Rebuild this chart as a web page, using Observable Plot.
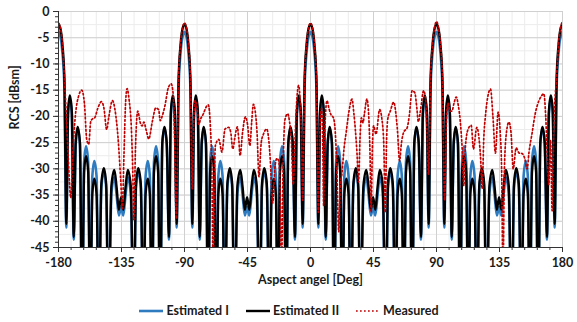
<!DOCTYPE html>
<html><head><meta charset="utf-8">
<script src="https://cdn.jsdelivr.net/npm/d3@7"></script>
<script src="https://cdn.jsdelivr.net/npm/@observablehq/plot@0.6"></script>
<style>
body{margin:0;background:#fff;font-family:Lato,"Open Sans",sans-serif;}
#chart{width:577px;height:322px;position:relative;overflow:hidden;}
#chart svg{display:block;}
.legend{position:absolute;left:0;top:303px;width:577px;display:flex;justify-content:center;gap:16px;font-weight:bold;font-size:12.5px;color:#1a1a1a;line-height:16px;}
.item{display:flex;align-items:center;gap:2px;}
</style></head><body><div id="chart"></div>
<script>
// Aspect angles (deg) at which the estimated curves were read
const angle = [
 -180,-178.6,-177.2,-175.8,-174.4,-173.15,-171.9,-170.5,-169.1,-167.7,-166.3,-164.7,-163.1,-161.7,-160.3,-158.8,-157.3,-155.85,-154.4,-152.8,-151.2,-149.4,-147.6,-145.95,-144.3,-142.2,-140.1,-138.5,-136.9,-135.3,-133.7,-132.1,-130.5,-128.4,-126.3,-124.65,-123,-121.2,-119.4,-117.8,-116.2,-114.75,-113.3,-111.8,-110.3,-108.85,-107.4,-105.85,-104.3,-102.7,-101.1,-99.7,-98.3,-96.95,-95.6,-94.2,-92.8,-91.4,
 -90,-88.6,-87.2,-85.8,-84.4,-83.15,-81.9,-80.5,-79.1,-77.7,-76.3,-74.7,-73.1,-71.7,-70.3,-68.8,-67.3,-65.85,-64.4,-62.8,-61.2,-59.4,-57.6,-55.95,-54.3,-52.2,-50.1,-48.5,-46.9,-45.3,-43.7,-42.1,-40.5,-38.4,-36.3,-34.65,-33,-31.2,-29.4,-27.8,-26.2,-24.75,-23.3,-21.8,-20.3,-18.85,-17.4,-15.85,-14.3,-12.7,-11.1,-9.7,-8.3,-6.95,-5.6,-4.2,-2.8,-1.4,
 0,1.4,2.8,4.2,5.6,6.85,8.1,9.5,10.9,12.3,13.7,15.3,16.9,18.3,19.7,21.2,22.7,24.15,25.6,27.2,28.8,30.6,32.4,34.05,35.7,37.8,39.9,41.5,43.1,44.7,46.3,47.9,49.5,51.6,53.7,55.35,57,58.8,60.6,62.2,63.8,65.25,66.7,68.2,69.7,71.15,72.6,74.15,75.7,77.3,78.9,80.3,81.7,83.05,84.4,85.8,87.2,88.6,
 90,91.4,92.8,94.2,95.6,96.85,98.1,99.5,100.9,102.3,103.7,105.3,106.9,108.3,109.7,111.2,112.7,114.15,115.6,117.2,118.8,120.6,122.4,124.05,125.7,127.8,129.9,131.5,133.1,134.7,136.3,137.9,139.5,141.6,143.7,145.35,147,148.8,150.6,152.2,153.8,155.25,156.7,158.2,159.7,161.15,162.6,164.15,165.7,167.3,168.9,170.3,171.7,173.05,174.4,175.8,177.2,178.6,
 180];

// Estimated I (blue), dBsm
const estimatedI = [
 -3.9,-4.8,-7.8,-14.4,-41.2,-19.6,-16.6,-19.6,-43.5,-25.3,-22.3,-25.3,-60,-28.7,-25.7,-28.7,-60,-31.5,-28.5,-31.5,-60,-33.6,-30.6,-33.6,-60,-34.6,-31.6,-35,-38.9,-37.3,-38.9,-35,-31.6,-34.6,-60,-33.6,-30.6,-33.6,-60,-31.5,-28.5,-31.5,-60,-28.7,-25.7,-28.7,-60,-25.3,-22.3,-25.3,-43.5,-19.6,-16.6,-19.6,-41.2,-14.4,-7.8,-4.8,
 -3.9,-4.8,-7.8,-14.4,-41.2,-19.6,-16.6,-19.6,-43.5,-25.3,-22.3,-25.3,-60,-28.7,-25.7,-28.7,-60,-31.5,-28.5,-31.5,-60,-33.6,-30.6,-33.6,-60,-34.6,-31.6,-35,-38.9,-37.3,-38.9,-35,-31.6,-34.6,-60,-33.6,-30.6,-33.6,-60,-31.5,-28.5,-31.5,-60,-28.7,-25.7,-28.7,-60,-25.3,-22.3,-25.3,-43.5,-19.6,-16.6,-19.6,-41.2,-14.4,-7.8,-4.8,
 -3.9,-4.8,-7.8,-14.4,-41.2,-19.6,-16.6,-19.6,-43.5,-25.3,-22.3,-25.3,-60,-28.7,-25.7,-28.7,-60,-31.5,-28.5,-31.5,-60,-33.6,-30.6,-33.6,-60,-34.6,-31.6,-35,-38.9,-37.3,-38.9,-35,-31.6,-34.6,-60,-33.6,-30.6,-33.6,-60,-31.5,-28.5,-31.5,-60,-28.7,-25.7,-28.7,-60,-25.3,-22.3,-25.3,-43.5,-19.6,-16.6,-19.6,-41.2,-14.4,-7.8,-4.8,
 -3.9,-4.8,-7.8,-14.4,-41.2,-19.6,-16.6,-19.6,-43.5,-25.3,-22.3,-25.3,-60,-28.7,-25.7,-28.7,-60,-31.5,-28.5,-31.5,-60,-33.6,-30.6,-33.6,-60,-34.6,-31.6,-35,-38.9,-37.3,-38.9,-35,-31.6,-34.6,-60,-33.6,-30.6,-33.6,-60,-31.5,-28.5,-31.5,-60,-28.7,-25.7,-28.7,-60,-25.3,-22.3,-25.3,-43.5,-19.6,-16.6,-19.6,-41.2,-14.4,-7.8,-4.8,
 -3.9];

// Estimated II (black), dBsm
const estimatedII = [
 -2.4,-3.3,-6.3,-12.9,-40.5,-19,-16,-19,-43,-25,-22,-25,-60,-30.6,-27.6,-30.6,-60,-34.9,-31.9,-34.9,-60,-32.9,-29.9,-32.9,-60,-33.2,-30.2,-33.5,-37.8,-35.4,-37.8,-33.5,-30.2,-33.2,-60,-32.9,-29.9,-32.9,-60,-34.9,-31.9,-34.9,-60,-30.6,-27.6,-30.6,-60,-25,-22,-25,-43,-19,-16,-19,-40.5,-12.9,-6.3,-3.3,
 -2.4,-3.3,-6.3,-12.9,-40.5,-19,-16,-19,-43,-25,-22,-25,-60,-30.6,-27.6,-30.6,-60,-34.9,-31.9,-34.9,-60,-32.9,-29.9,-32.9,-60,-33.2,-30.2,-33.5,-37.8,-35.4,-37.8,-33.5,-30.2,-33.2,-60,-32.9,-29.9,-32.9,-60,-34.9,-31.9,-34.9,-60,-30.6,-27.6,-30.6,-60,-25,-22,-25,-43,-19,-16,-19,-40.5,-12.9,-6.3,-3.3,
 -2.4,-3.3,-6.3,-12.9,-40.5,-19,-16,-19,-43,-25,-22,-25,-60,-30.6,-27.6,-30.6,-60,-34.9,-31.9,-34.9,-60,-32.9,-29.9,-32.9,-60,-33.2,-30.2,-33.5,-37.8,-35.4,-37.8,-33.5,-30.2,-33.2,-60,-32.9,-29.9,-32.9,-60,-34.9,-31.9,-34.9,-60,-30.6,-27.6,-30.6,-60,-25,-22,-25,-43,-19,-16,-19,-40.5,-12.9,-6.3,-3.3,
 -2.4,-3.3,-6.3,-12.9,-40.5,-19,-16,-19,-43,-25,-22,-25,-60,-30.6,-27.6,-30.6,-60,-34.9,-31.9,-34.9,-60,-32.9,-29.9,-32.9,-60,-33.2,-30.2,-33.5,-37.8,-35.4,-37.8,-33.5,-30.2,-33.2,-60,-32.9,-29.9,-32.9,-60,-34.9,-31.9,-34.9,-60,-30.6,-27.6,-30.6,-60,-25,-22,-25,-43,-19,-16,-19,-40.5,-12.9,-6.3,-3.3,
 -2.4];

// Measured (red dotted)
const measuredAngle = [
 -180,-178.6,-177.2,-175.8,-174.4,-173.2,-171.2,-169.8,-168,-165.5,-163.4,-161.5,-159.8,-158.4,-157,-155.8,-154.2,-152,-149.3,-147.5,-145.6,-144,-141.5,-139.5,-137.5,-135.6,-134.4,-133.2,-132,-131,-129.5,-128,-127,-126.2,-125,-123.4,-121.5,-120.3,-119,-117.5,-115.5,-113,-110.5,-108.5,-107.3,-106,-104,-101.5,-99.5,-98,-97,-95.9,-94.2,-92.8,-91.4,
 -90,-88.6,-87.2,-85.8,-84.5,-83.3,-82.4,-81,-79.8,-78.5,-76.5,-74.5,-73,-71.5,-70.5,-69.5,-68.5,-67.9,-65.5,-63.3,-61,-58.5,-57,-55.5,-54,-52.3,-51.2,-50.3,-48.5,-46.5,-45,-43.3,-42,-40.8,-39.5,-38.2,-36.8,-35.2,-33.5,-31.3,-30,-28.8,-27,-25.5,-24,-22.7,-21.6,-20.8,-19.6,-18.3,-16.3,-15,-13.8,-12.3,-11,-9.8,-8.5,-7.2,-6.3,-5.6,-4.2,-2.8,-1.4,
 0,1.4,2.8,4.2,5.6,6.8,7.9,8.7,9.4,10.3,11.8,13.2,14.5,16.4,17.7,18.8,20.2,21.3,22.4,24,25.5,27.5,29.6,31,32,33.2,34.3,35.4,36.3,37.5,38.5,40.3,41.6,42.5,43.3,44.2,45.1,46.8,49.4,51,52.3,53.4,54.3,55.2,57,59.4,61,62.2,63.6,65,66.6,69,70.5,72.6,74.5,76,77,78.5,80.8,82.3,83.3,84.3,85.8,87.2,88.6,
 90,91.4,92.8,94.2,95.8,97.2,98.2,99.5,101,102.5,104.1,105.5,107,108.3,109.5,110.6,112.5,114.8,116.4,118.8,120.3,121.5,122.6,123.8,125,126.8,128.6,130.3,132.1,134,135.5,136.5,137.5,138.5,140,141.7,143.2,144.8,146.9,149,151.2,153,154.8,156,158.4,160.5,162,164.5,166.7,168,169.2,170.2,171.5,172.6,173.8,175.8,177.2,178.6,180];
const measured = [
 -2.2,-3.1,-6.1,-12.5,-20,-27,-35.5,-27,-20,-16,-15,-17.5,-24.5,-25.3,-21,-20.5,-20.3,-18.5,-17.2,-18.5,-22.5,-20,-17,-19,-24,-32,-37.6,-27,-17,-14.7,-17,-22,-30,-39.7,-26,-19,-21.3,-21.8,-21.1,-22.5,-24.3,-21,-18.4,-18.7,-20.8,-20,-18,-14.5,-13.8,-16,-25,-39.5,-12.5,-6.1,-3.1,
 -2.2,-3.1,-6.1,-12.5,-33.8,-20,-17,-18.5,-21.5,-20.5,-19.5,-18.2,-17.8,-22,-30,-50,-30,-25.5,-24.4,-26.8,-22.4,-22.1,-23,-26.2,-24,-22,-24.5,-27.5,-23,-20.1,-21.5,-25.6,-21,-17.7,-19,-23,-31.5,-25,-23.3,-22.4,-24,-28,-36.5,-30,-28,-28.5,-35,-50,-30,-20.7,-19.5,-21,-24,-33,-24,-17,-14.1,-18,-25,-36,-12.5,-6.1,-3.1,
 -2.2,-3.1,-6.1,-12.5,-38.3,-22,-18.5,-24,-37,-22,-17,-18.5,-19.6,-20.3,-23,-30,-42,-33,-31,-26,-23,-19,-16.7,-19.5,-22.4,-27,-32.5,-24,-20.3,-21.2,-19.5,-16.7,-20,-27,-38.3,-26,-21.8,-23.4,-18.7,-20.5,-25,-38.3,-25,-20.5,-19,-17.3,-19.5,-23,-28.5,-25,-23,-22.2,-20,-15.1,-15.5,-18.5,-21,-19,-15.1,-17,-23,-31,-12.5,-6.1,-3.1,
 -1.9,-3.1,-6.1,-12.5,-36,-20,-17.5,-19,-19,-17.5,-16.3,-17.8,-21,-26,-33.2,-26,-22.5,-21.7,-26.2,-22.1,-24,-28,-33.8,-24,-19.8,-16,-14.8,-20,-27,-19.2,-23,-30,-50,-30,-23,-21.1,-23,-30,-26,-27,-27.1,-28,-30,-27,-23,-19.5,-17.9,-16.3,-15.7,-20,-28,-33,-24.5,-38,-21.7,-12.5,-6.1,-3.1,-2];

// Axis ticks
const xTicks = [-180,-135,-90,-45,0,45,90,135,180];
const xMinor = d3.range(-180, 181, 9);
const yTicks = [-45,-40,-35,-30,-25,-20,-15,-10,-5,0];
const yMinor = d3.range(-45, 0.1, 1);
const yGridMinor = d3.range(-45, 0.1, 2.5);

const est = angle.map((a, i) => ({a, I: estimatedI[i], II: estimatedII[i]}));
const meas = measuredAngle.map((a, i) => ({a, v: measured[i]}));

const fmt = d => String(d);
const plot = Plot.plot({
  width: 577, height: 292,
  marginTop: 11, marginBottom: 45, marginLeft: 58, marginRight: 15,
  style: {fontFamily: "Lato, 'Open Sans', sans-serif", fontSize: "12.5px", fontWeight: "bold", color: "#1a1a1a", background: "#fff"},
  x: {domain: [-180, 180]},
  y: {domain: [-45, 0]},
  marks: [
    Plot.gridX(xMinor, {stroke: "#ececec", strokeOpacity: 1}),
    Plot.gridY(yGridMinor, {stroke: "#ececec", strokeOpacity: 1}),
    Plot.gridX(xTicks, {stroke: "#d0d0d0", strokeOpacity: 1}),
    Plot.gridY(yTicks, {stroke: "#d0d0d0", strokeOpacity: 1}),
    Plot.line(est, {x: "a", y: "I", stroke: "#2e7bbf", strokeWidth: 2.6, curve: "monotone-x", clip: true}),
    Plot.line(est, {x: "a", y: "II", stroke: "#000", strokeWidth: 2.4, curve: "monotone-x", clip: true}),
    Plot.line(meas, {x: "a", y: "v", stroke: "#c00000", strokeWidth: 1.7, strokeDasharray: "1.7 2.3", curve: "monotone-x", clip: true}),
    Plot.axisX(xMinor, {tickSize: 3, tickFormat: () => "", stroke: "#333", label: null}),
    Plot.axisX(xTicks, {tickSize: 5, tickPadding: 6, tickFormat: fmt, stroke: "#333", label: null}),
    Plot.axisY(yMinor, {tickSize: 3, tickFormat: () => "", stroke: "#333", label: null}),
    Plot.axisY(yTicks, {tickSize: 5, tickPadding: 4, tickFormat: fmt, stroke: "#333", label: null}),
    Plot.ruleX([-180], {stroke: "#333"}),
    Plot.ruleY([-45], {stroke: "#333"}),
    Plot.text(["Aspect angel [Deg]"], {frameAnchor: "bottom", dy: 36, fontWeight: "bold", fontSize: 12.5, fill: "#1a1a1a"}),
    Plot.text(["RCS [dBsm]"], {frameAnchor: "left", dx: -44, rotate: -90, fontWeight: "bold", fontSize: 12.5, fill: "#1a1a1a"})
  ]
});
const chart = document.getElementById("chart");
chart.appendChild(plot);

const legendItems = [
  {label: "Estimated I", color: "#2e7bbf", dash: null, w: 2.6},
  {label: "Estimated II", color: "#000", dash: null, w: 2.4},
  {label: "Measured", color: "#c00000", dash: "1.7 2.3", w: 1.7}
];
const lg = document.createElement("div");
lg.className = "legend";
for (const it of legendItems) {
  const d = document.createElement("div");
  d.className = "item";
  d.innerHTML = `<svg width="26" height="10"><line x1="1" y1="5" x2="25" y2="5" stroke="${it.color}" stroke-width="${it.w}" ${it.dash ? `stroke-dasharray="${it.dash}"` : ""}/></svg><span>${it.label}</span>`;
  lg.appendChild(d);
}
chart.appendChild(lg);
</script></body></html>
